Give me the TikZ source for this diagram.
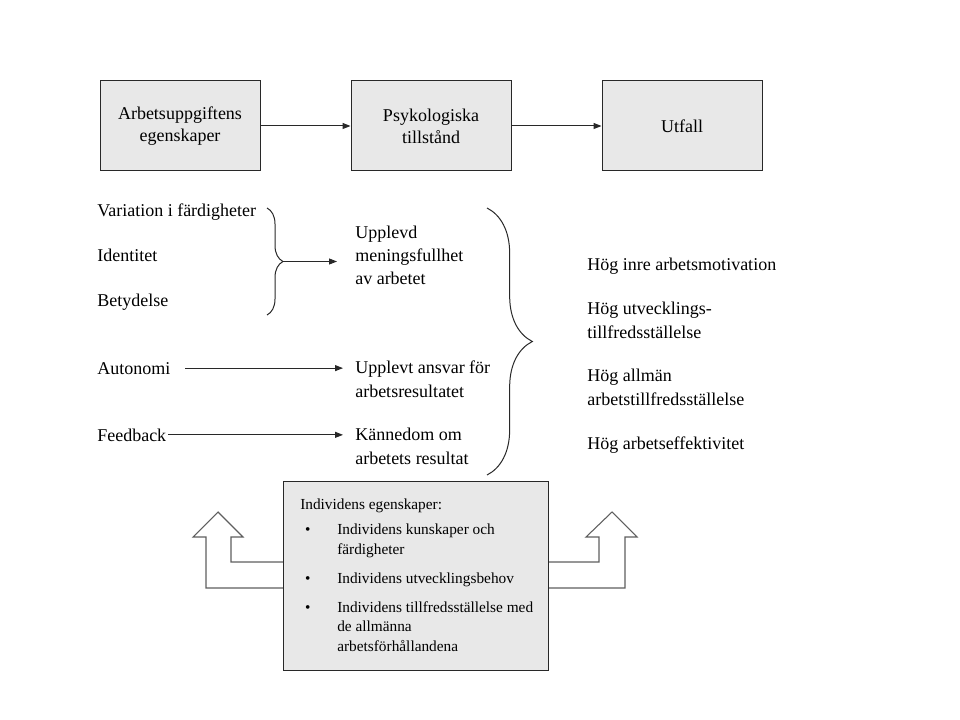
\documentclass[tikz,border=0pt]{standalone}
\usepackage{fontspec}
\setmainfont{Liberation Serif}
\usetikzlibrary{arrows.meta, positioning, calc, decorations.pathreplacing}
\definecolor{boxgray}{RGB}{232,232,232}
\definecolor{edgegray}{RGB}{40,40,40}
\definecolor{arrgray}{RGB}{95,95,95}

\begin{document}
\begin{tikzpicture}[x=0.75pt,y=-0.75pt,
  box/.style={draw=edgegray,fill=boxgray,line width=0.75pt,
    minimum width=120pt,minimum height=67.5pt,inner sep=0pt,
    font=\fontsize{13.5}{16.5}\selectfont,align=center},
  txt/.style={anchor=base west,inner sep=0pt,align=left,
    font=\fontsize{13.5}{17.5}\selectfont},
  sml/.style={anchor=base west,inner sep=0pt,align=left,
    font=\fontsize{11.5}{14.5}\selectfont},
  arr/.style={-{Triangle[length=6pt,width=4.5pt]},draw=edgegray,line width=0.75pt},
  brc/.style={draw=edgegray,line width=0.75pt,decorate,decoration={brace,amplitude=#1}},
  blockarr/.style={draw=arrgray,fill=white,line width=0.8pt}]
  \useasboundingbox (0,0) rectangle (960,720);
  % top row
  \node[box] (task) at (180,126) {Arbetsuppgiftens\\egenskaper};
  \node[box,right=67.5pt of task] (psych) {Psykologiska\\tillstånd};
  \node[box,right=67.5pt of psych] (outc) {Utfall};
  \draw[arr] (task) -- (psych);
  \draw[arr] (psych) -- (outc);
  % job characteristics (base = last line)
  \node[txt] (skill) at (97,217) {Variation i färdigheter};
  \node[txt] (ident) at (97,262) {Identitet};
  \node[txt] (signif) at (97,306) {Betydelse};
  \node[txt] (auton) at (97,374) {Autonomi};
  \node[txt] (feedb) at (97,441) {Feedback};
  % psychological states
  \node[txt] (mean) at (355,285) {Upplevd\\meningsfullhet\\av arbetet};
  \node[txt] (resp) at (355,397) {Upplevt ansvar för\\arbetsresultatet};
  \node[txt] (know) at (355,464) {Kännedom om\\arbetets resultat};
  % outcomes
  \node[txt] (motiv) at (587,271) {Hög inre arbetsmotivation};
  \node[txt] (growth) at (587,338) {Hög utvecklings-\\tillfredsställelse};
  \node[txt] (gensat) at (587,405) {Hög allmän\\arbetstillfredsställelse};
  \node[txt] (effect) at (587,449) {Hög arbetseffektivitet};
  % braces
  \draw[brc=12pt] (267,208) -- (267,315);
  \coordinate (smalltip) at (283,261.5);
  \draw[brc=34pt] (487,208) -- (487,475);
  \draw[arr,shorten >=13.5pt] (smalltip) -- (smalltip -| mean.west);
  \draw[arr,shorten <=11pt,shorten >=9pt] (auton.east) -- (auton.east -| resp.west);
  \draw[arr,shorten <=1pt,shorten >=9pt] (feedb.east) -- (feedb.east -| know.west);
  % block arrows
  \draw[blockarr] (284,562) -- (231,562) -- (231,537) -- (243,537) -- (218,512)
    -- (193,537) -- (206,537) -- (206,588) -- (284,588);
  \draw[blockarr] (547,562) -- (599,562) -- (599,537) -- (586,537) -- (612,512)
    -- (637,537) -- (625,537) -- (625,588) -- (547,588);
  % individual characteristics
  \node[box,minimum width=198.75pt,minimum height=141.75pt] (indiv) at (415.5,575.5) {};
  \node[sml] (indtitle) at (300,509) {Individens egenskaper:};
  \node[sml] (item1) at (337,554) {\llap{\textbullet\hspace{20pt}}Individens kunskaper och\\färdigheter};
  \node[sml] (item2) at (337,583) {\llap{\textbullet\hspace{20pt}}Individens utvecklingsbehov};
  \node[sml] (item3) at (337,651) {\llap{\textbullet\hspace{20pt}}Individens tillfredsställelse med\\de allmänna\\arbetsförhållandena};
\end{tikzpicture}
\end{document}
